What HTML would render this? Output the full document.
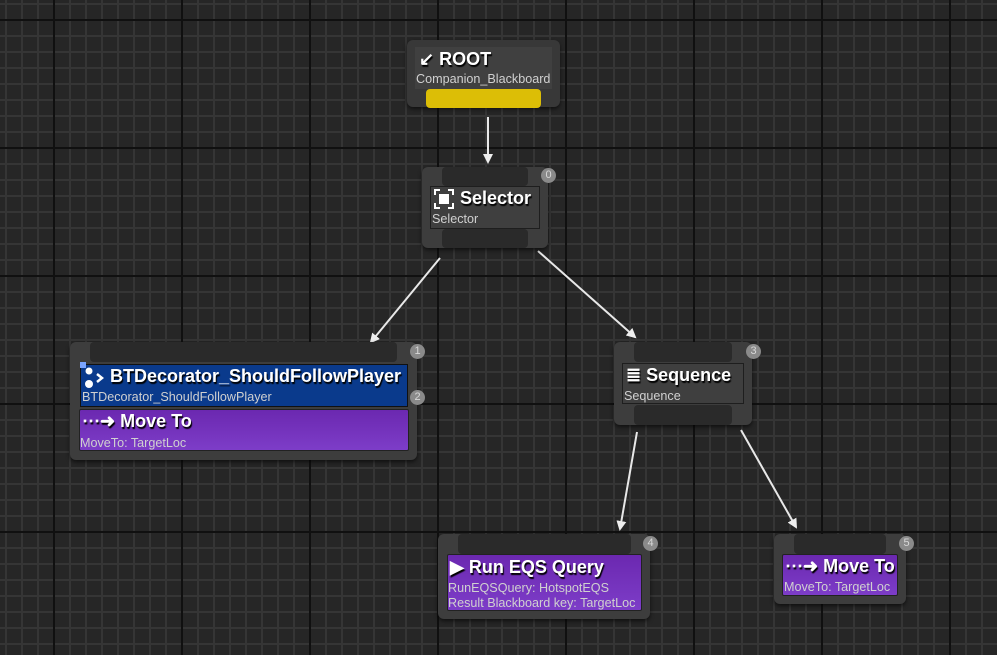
<!DOCTYPE html>
<html><head><style>
body{margin:0;width:997px;height:655px;overflow:hidden;font-family:"Liberation Sans",sans-serif;
background-color:#262626;
background-image:
linear-gradient(90deg,#101010 2px,transparent 2px),
linear-gradient(0deg,#101010 2px,transparent 2px),
linear-gradient(90deg,#353535 2px,transparent 2px),
linear-gradient(0deg,#353535 2px,transparent 2px);
background-size:128px 128px,128px 128px,16px 16px,16px 16px;
background-position:53px 0,0 21px,5px 0,0 5px;}
.a{position:absolute;box-sizing:border-box}
.outer{background:#3d3d3d;border-radius:6px;box-shadow:0 2px 4px rgba(0,0,0,.6)}
.pin{background:#2a2a2a;border-radius:4px}
.badge{width:15px;height:15px;border-radius:50%;background:#8a8a8a;color:#d8d8d8;font-size:11px;text-align:center;line-height:15px}
.t{color:#fff;font-weight:bold;font-size:18px;text-shadow:1px 2px 1px #000;white-space:nowrap}
.s{color:#d0d0d0;font-size:12.6px;white-space:nowrap}
.pur{background:linear-gradient(#6b28b0,#7d3dc8);border:1px solid #222;border-radius:2px}
</style></head><body>
<svg class="a" style="left:0;top:0" width="997" height="655">
<defs><marker id="ar" markerWidth="10" markerHeight="10" refX="8" refY="5" orient="auto" markerUnits="userSpaceOnUse"><path d="M0,0 L10,5 L0,10 z" fill="#eee"/></marker></defs>
<g stroke="#e8e8e8" stroke-width="2" marker-end="url(#ar)">
<line x1="488" y1="117" x2="488" y2="162"/>
<line x1="440" y1="258" x2="371" y2="342"/>
<line x1="538" y1="251" x2="635" y2="337"/>
<line x1="637" y1="432" x2="620" y2="529"/>
<line x1="741" y1="430" x2="796" y2="527"/>
</g></svg>

<!-- ROOT -->
<div class="a outer" style="left:407px;top:40px;width:153px;height:67px;background:#383838"></div>
<div class="a" style="left:415px;top:47px;width:137px;height:42px;background:#404040"></div>
<div class="a t" style="left:419px;top:49px">↙ ROOT</div>
<div class="a s" style="left:416px;top:72px">Companion_Blackboard</div>
<div class="a" style="left:426px;top:89px;width:115px;height:19px;background:#dcbe06;border-radius:4px"></div>

<!-- Selector -->
<div class="a outer" style="left:422px;top:167px;width:126px;height:81px"></div>
<div class="a pin" style="left:442px;top:167px;width:86px;height:19px"></div>
<div class="a" style="left:430px;top:186px;width:110px;height:43px;background:#3f3f3f;border:1px solid #1e1e1e"></div>
<div class="a pin" style="left:442px;top:229px;width:86px;height:19px"></div>
<svg class="a" style="left:434px;top:189px" width="20" height="20"><path d="M1,6V1H6M14,1H19V6M19,14V19H14M6,19H1V14" stroke="#fff" stroke-width="2" fill="none"/><rect x="5" y="5" width="10" height="10" fill="#fff"/></svg>
<div class="a t" style="left:460px;top:188px">Selector</div>
<div class="a s" style="left:432px;top:212px">Selector</div>
<div class="a badge" style="left:541px;top:168px">0</div>

<!-- Left -->
<div class="a outer" style="left:70px;top:342px;width:347px;height:118px"></div>
<div class="a pin" style="left:90px;top:342px;width:307px;height:20px"></div>
<div class="a" style="left:80px;top:364px;width:328px;height:43px;background:#0a3a8c;border:1px solid #111"></div>
<div class="a" style="left:80px;top:362px;width:6px;height:6px;background:#7aa4ff"></div>
<svg class="a" style="left:83px;top:367px" width="24" height="22"><circle cx="6" cy="4" r="3.5" fill="#fff"/><circle cx="6" cy="17" r="4" fill="#fff"/><path d="M14,7L19,11L14,15" stroke="#fff" stroke-width="2.5" fill="none"/></svg>
<div class="a t" style="left:110px;top:366px">BTDecorator_ShouldFollowPlayer</div>
<div class="a s" style="left:82px;top:390px">BTDecorator_ShouldFollowPlayer</div>
<div class="a pur" style="left:79px;top:409px;width:330px;height:42px"></div>
<div class="a t" style="left:82px;top:411px">⋯➜ Move To</div>
<div class="a s" style="left:80px;top:436px">MoveTo: TargetLoc</div>
<div class="a badge" style="left:410px;top:344px">1</div>
<div class="a badge" style="left:410px;top:390px">2</div>

<!-- Sequence -->
<div class="a outer" style="left:614px;top:342px;width:138px;height:83px"></div>
<div class="a pin" style="left:634px;top:342px;width:98px;height:20px"></div>
<div class="a" style="left:622px;top:363px;width:122px;height:41px;background:#3f3f3f;border:1px solid #1e1e1e"></div>
<div class="a pin" style="left:634px;top:405px;width:98px;height:20px"></div>
<div class="a t" style="left:626px;top:365px">≣ Sequence</div>
<div class="a s" style="left:624px;top:389px">Sequence</div>
<div class="a badge" style="left:746px;top:344px">3</div>

<!-- Run EQS -->
<div class="a outer" style="left:438px;top:534px;width:212px;height:85px"></div>
<div class="a pin" style="left:458px;top:534px;width:173px;height:20px"></div>
<div class="a pur" style="left:447px;top:554px;width:195px;height:57px"></div>
<div class="a t" style="left:450px;top:557px">▶ Run EQS Query</div>
<div class="a s" style="left:448px;top:581px">RunEQSQuery: HotspotEQS</div>
<div class="a s" style="left:448px;top:596px">Result Blackboard key: TargetLoc</div>
<div class="a badge" style="left:643px;top:536px">4</div>

<!-- Move To right -->
<div class="a outer" style="left:774px;top:534px;width:132px;height:70px"></div>
<div class="a pin" style="left:794px;top:534px;width:92px;height:20px"></div>
<div class="a pur" style="left:782px;top:554px;width:116px;height:42px"></div>
<div class="a t" style="left:785px;top:556px">⋯➜ Move To</div>
<div class="a s" style="left:784px;top:580px">MoveTo: TargetLoc</div>
<div class="a badge" style="left:899px;top:536px">5</div>
</body></html>
